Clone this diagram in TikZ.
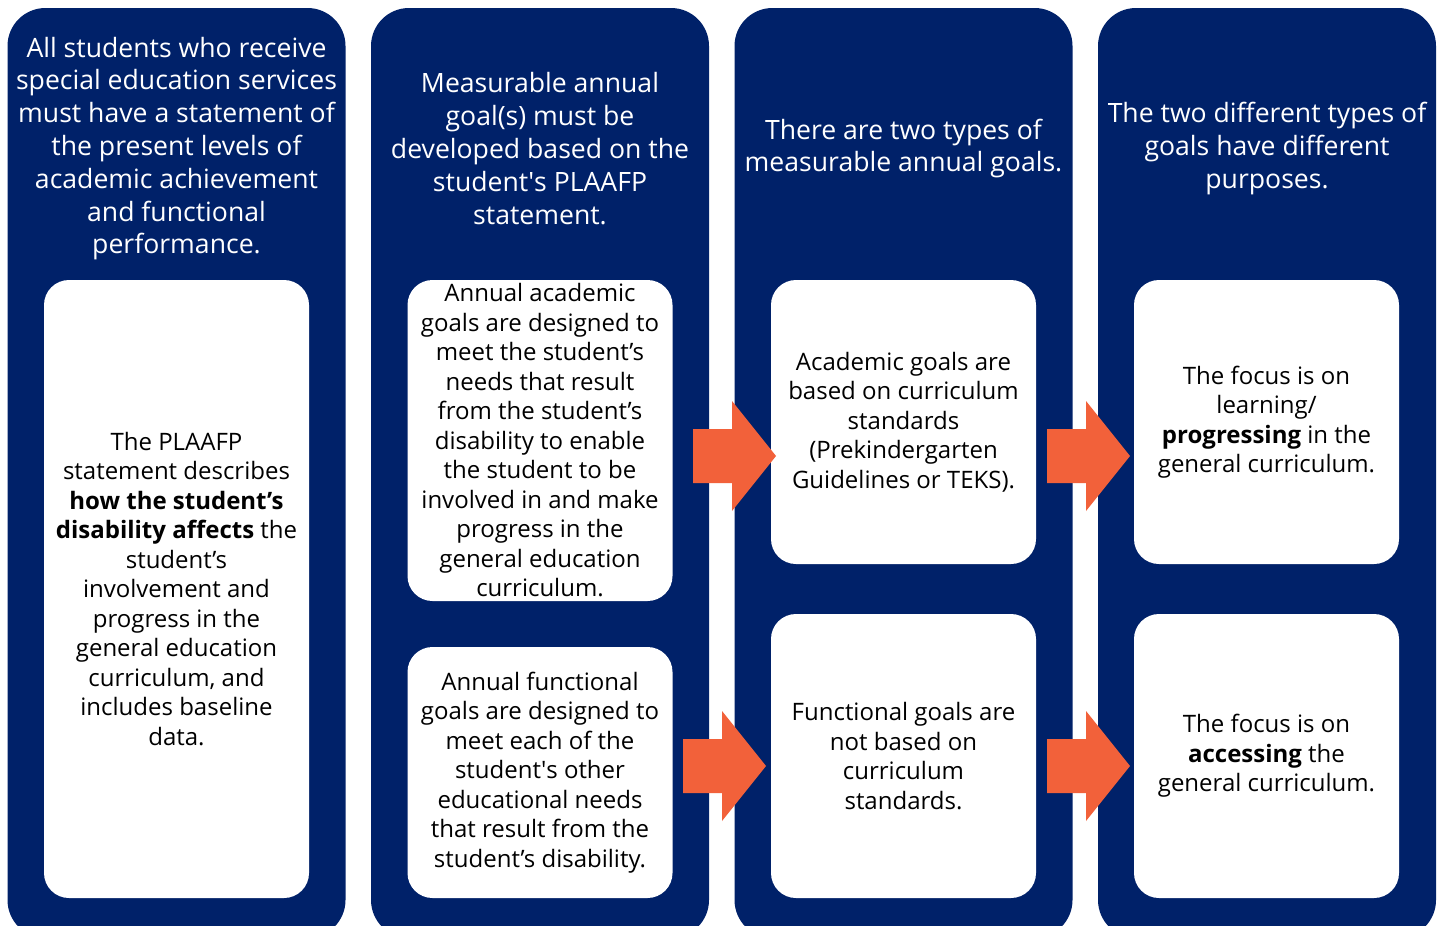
\documentclass[tikz,border=0pt]{standalone}
\usepackage{fontspec}
\setmainfont{Open Sans}
\definecolor{navy}{HTML}{002169}
\definecolor{arroworange}{HTML}{F2613A}
\tikzset{
  column/.style={fill=navy, draw=none, rounded corners=38pt, minimum width=338pt, minimum height=930pt, inner sep=0pt},
  header/.style={text=white, align=center, inner sep=0pt, font=\fontsize{26.6}{32.8}\selectfont},
  whitebox/.style={fill=white, draw=none, rounded corners=25pt, minimum width=265pt, inner sep=0pt, align=center, text=black, font=\fontsize{24}{29.5}\selectfont},
  blockarrow/.style={fill=arroworange, draw=none}
}
\newcommand{\orangearrow}[2]{%
  \fill[blockarrow] (#1-83,#2-27) -- (#1-44,#2-27) -- (#1-44,#2-55) -- (#1,#2) -- (#1-44,#2+55) -- (#1-44,#2+27) -- (#1-83,#2+27) -- cycle;}
\begin{document}
\begin{tikzpicture}[x=1pt,y=-1pt]
\clip (0,0) rectangle (1440,926);
\fill[white] (0,0) rectangle (1440,926);
% columns
\node[column] (col1) at (176.5,473) {};
\node[column] (col2) at (540,473) {};
\node[column] (col3) at (903.5,473) {};
\node[column] (col4) at (1267,473) {};
% headers
\node[header] (h1) at (176.5,148.5) {All students who receive\\special education services\\must have a statement of\\the present levels of\\academic achievement\\and functional\\performance.};
\node[header] (h2) at (540,148.5) {Measurable annual\\goal(s) must be\\developed based on the\\student\textquotesingle s PLAAFP\\statement.};
\node[header] (h3) at (903.5,148.5) {There are two types of\\measurable annual goals.};
\node[header] (h4) at (1267,148.5) {The two different types of\\goals have different\\purposes.};
% white boxes
\node[whitebox, minimum height=618pt] (b1) at (176.5,589) {The PLAAFP\\statement describes\\\textbf{how the student’s}\\\textbf{disability affects} the\\student’s\\involvement and\\progress in the\\general education\\curriculum, and\\includes baseline\\data.};
\node[whitebox, minimum height=321pt] (b2a) at (540,440.5) {Annual academic\\goals are designed to\\meet the student’s\\needs that result\\from the student’s\\disability to enable\\the student to be\\involved in and make\\progress in the\\general education\\curriculum.};
\node[whitebox, minimum height=251pt] (b2b) at (540,772.5) {Annual functional\\goals are designed to\\meet each of the\\student\textquotesingle s other\\educational needs\\that result from the\\student’s disability.};
\node[whitebox, minimum height=284pt] (b3a) at (903.5,422) {Academic goals are\\based on curriculum\\standards\\(Prekindergarten\\Guidelines or TEKS).};
\node[whitebox, minimum height=284pt] (b3b) at (903.5,756) {Functional goals are\\not based on\\curriculum\\standards.};
\node[whitebox, minimum height=284pt] (b4a) at (1266.5,422) {The focus is on\\learning/\\\textbf{progressing} in the\\general curriculum.};
\node[whitebox, minimum height=284pt] (b4b) at (1266.5,756) {The focus is on\\\textbf{accessing} the\\general curriculum.};
% arrows
\orangearrow{776}{456}
\orangearrow{766}{766}
\orangearrow{1130}{456}
\orangearrow{1130}{766}
\end{tikzpicture}
\end{document}
